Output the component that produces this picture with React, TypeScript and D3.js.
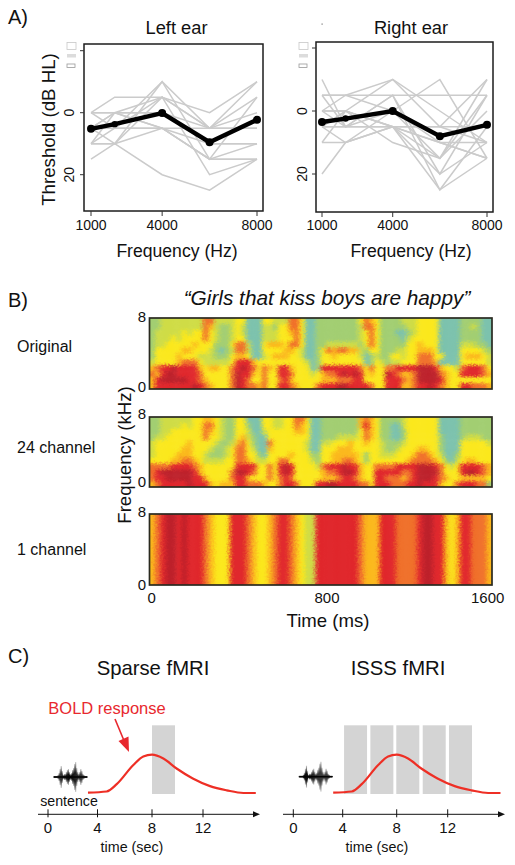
import React from "react";
import * as d3 from "d3";

const FONT = "'Liberation Sans', Arial, sans-serif";

// Panel A
const freqs = [1000, 2000, 4000, 6000, 8000];
const freqTicks = [1000, 4000, 8000];
const leftMean = [5.2, 3.7, 0.1, 9.5, 2.3];
const rightMean = [3.5, 2.4, 0, 8, 4.4];
const leftSubjects = [
  [5, 10, 20, 25, 15],
  [15, 10, 5, 15, 10],
  [10, 10, -10, 5, 5],
  [10, 0, -5, 0, -10],
  [0, -5, -5, 5, 0],
  [0, 5, 5, 15, 15],
  [5, 5, 5, 5, 5],
  [10, 10, -5, 20, 15],
  [5, 0, 0, 10, 10],
  [0, 0, 5, 15, 15],
  [5, 5, -10, 15, -5],
  [10, 5, -5, 5, -10],
  [5, 0, 0, 5, -5],
  [0, 0, 5, 10, 10],
];
const rightSubjects = [
  [20, 10, 5, 25, 15],
  [-10, 5, 5, 20, 10],
  [10, 0, 10, 15, -10],
  [5, 10, 0, -10, 15],
  [-5, -5, -10, 5, 10],
  [-5, -5, -5, -5, -5],
  [0, 0, 5, 10, 10],
  [5, 5, -5, 25, 5],
  [0, 5, -5, 20, -5],
  [5, 0, 5, 15, 0],
  [0, -5, 0, 10, 15],
  [10, 10, 5, 5, -10],
  [5, 5, 5, 5, 5],
  [0, 0, -10, 0, 10],
  [5, 0, 5, 10, 15],
  [-5, 5, 0, 15, -5],
];

// Panel B, levels 0 (teal) to 7 (dark red), top row = 8 kHz
const specLevels = ["#7cc2ad", "#a2ce72", "#cfdc46", "#fbe81c", "#fbb81c", "#f0702a", "#e0262b", "#bd202a"];
const originalRows = [
  "11222222225522223300033222553001" + "11111113543111122233330000111100",
  "11222222225421123200022133553001" + "11111112553111112233330000112100",
  "12222232335321123200022233453001" + "11111112353111001233330000111100",
  "12223233335321123300022233353001" + "11111112353111102333330000111100",
  "12233333433311135520034443553001" + "12222221353111113343330000222110",
  "13333344333210125520033334432001" + "35455442133111223344430000333321",
  "13333433322211134430023444332001" + "33433332012113323355533000344432",
  "23333455532222236664333333333201" + "33333333013212233355540000333332",
  "45667666643443356765354366433301" + "66666665353355666677764332566653",
  "54677666653333357664353366533323" + "45567676343376544577775433666654",
  "46777776654333357653353356433333" + "44455566333366654577776433333333",
  "46666666765433357655453366543335" + "66677666653366644566765433665554",
];
const channel24Rows = [
  "11222222334432113300033223355300" + "11111114543111123333330000111111",
  "11222232335532113310033223354300" + "11111114643110023333330000111111",
  "11223333335432113320023333344300" + "11111113543110013333330000111111",
  "12233333335332113421003333333300" + "11122223543110013333331000122211",
  "23333334333321124531005333333200" + "22333433433211123333331000333332",
  "23333344333211235532004333333200" + "33344433333211233344331000333333",
  "23333444332111235533103333433311" + "33444443133222333455432001333333",
  "33334455432222335543223355333321" + "33445543133333334555543102344333",
  "55556666543333336666335367633332" + "56667664335555666677765323666654",
  "56777777643333357765335367633333" + "45567764336666655677775333677654",
  "56677777664333356643335356533333" + "44456654336655545677765433444443",
  "45666667666434446655543356653336" + "67766665536665556676664335666551",
];
const oneChannelCols = "4567767666543336" + "6654334566543226" + "6666666544466655" + "5567766434665554";

// Panel C
const boldTimes = [3.23, 4.67, 5.41, 6.63, 7.36, 8, 8.89, 9.93, 11.2, 12.55, 13.86, 15.17, 16.14];
const boldAmps = [0.01, 0.04, 0.23, 0.73, 0.95, 1, 0.9, 0.64, 0.38, 0.18, 0.07, 0, 0];
const waveAmps = [1, 1, 1, 1, 2, 4, 8, 11, 6, 2, 3, 3, 5, 7, 8, 5, 3, 4, 7, 9, 13, 15, 9, 5, 3, 5, 8, 6, 3, 2, 1, 1, 1];
const sparseScans = [8];
const isssScans = [4.1, 6.05, 7.97, 10.04, 12.1];
const timeTicks = [0, 4, 8, 12];

function T(p: any) {
  const { x, y, rot, children, ...rest } = p;
  return (
    <text x={x} y={y} transform={rot ? `rotate(${rot} ${x} ${y})` : undefined} fontFamily={FONT} fill="#111" {...rest}>
      {children}
    </text>
  );
}

function Audiogram({ box, xr, y0, y20, subjects, mean, title, titleX, labelX, xLabelX, ylabel, glitch }: any) {
  const x = d3.scaleLinear().domain([1000, 8000]).range(xr);
  const y = d3.scaleLinear().domain([0, 20]).range([y0, y20]);
  const line = d3.line<number>().x((_, i) => x(freqs[i])).y((d) => y(d));
  return (
    <g>
      {subjects.map((s: number[], i: number) => (
        <path key={i} d={line(s)!} fill="none" stroke="#cbcbcb" strokeWidth={1.5} />
      ))}
      <path d={line(mean)!} fill="none" stroke="#000" strokeWidth={4.4} />
      {mean.map((m: number, i: number) => (
        <circle key={i} cx={x(freqs[i])} cy={y(m)} r={i === 1 ? 3.2 : 4} fill="#000" />
      ))}
      <rect x={box[0]} y={box[1]} width={box[2] - box[0]} height={box[3] - box[1]} fill="none" stroke="#1c1c1c" strokeWidth={1.5} />
      {[-20, 0, 20].map((t) => (
        <line key={t} x1={box[0] - 4} x2={box[0]} y1={y(t)} y2={y(t)} stroke="#333" strokeWidth={1} />
      ))}
      {freqTicks.map((t) => (
        <g key={t}>
          <line x1={x(t)} x2={x(t)} y1={box[3]} y2={box[3] + 5} stroke="#333" strokeWidth={1} />
          <T x={x(t)} y={230} fontSize={14} textAnchor="middle">{t}</T>
        </g>
      ))}
      <T x={labelX} y={y(0)} rot={-90} fontSize={14} textAnchor="middle">0</T>
      <T x={labelX} y={y(20)} rot={-90} fontSize={14} textAnchor="middle">20</T>
      <rect x={glitch} y={42.5} width={9} height={7} fill="none" stroke="#c8c8c8" strokeWidth={0.8} />
      <rect x={glitch} y={54} width={9} height={3.5} fill="#dcdcdc" />
      <rect x={glitch} y={64} width={8} height={3.5} fill="none" stroke="#999" strokeWidth={0.8} />
      <T x={titleX} y={34} fontSize={18.3} textAnchor="middle">{title}</T>
      <T x={xLabelX} y={257} fontSize={17.6} textAnchor="middle">Frequency (Hz)</T>
      {ylabel && <T x={55} y={129.5} rot={-90} fontSize={18.7} textAnchor="middle">Threshold (dB HL)</T>}
    </g>
  );
}

function Spectrogram({ id, rows, top, bottom }: any) {
  const left = 149.5;
  const right = 492;
  const nCols = rows[0].length;
  const colIdx = d3.range(nCols);
  const x = d3.scaleBand<number>().domain(colIdx).range([left, right]);
  const y = d3.scaleBand<number>().domain(d3.range(rows.length)).range([top, bottom]);
  const color = d3.scaleOrdinal<number, string>().domain(d3.range(8)).range(specLevels);
  return (
    <g>
      <clipPath id={id}>
        <rect x={left} y={top} width={right - left} height={bottom - top} />
      </clipPath>
      <g clipPath={`url(#${id})`}>
        <g filter="url(#specBlur)">
          {rows.map((r: string, ri: number) =>
            colIdx.map((ci) => {
              const edgeL = ci === 0 ? 10 : 0;
              const edgeR = ci === nCols - 1 ? 10 : 0;
              const edgeT = ri === 0 ? 10 : 0;
              const edgeB = ri === rows.length - 1 ? 10 : 0;
              return (
                <rect
                  key={`${ri}-${ci}`}
                  x={x(ci)! - edgeL}
                  y={y(ri)! - edgeT}
                  width={x.bandwidth() + edgeL + edgeR + 0.4}
                  height={y.bandwidth() + edgeT + edgeB + 0.4}
                  fill={color(+r[ci])}
                />
              );
            })
          )}
        </g>
      </g>
      <rect x={left} y={top} width={right - left} height={bottom - top} fill="none" stroke="#2a2a20" strokeWidth={1.7} />
    </g>
  );
}

function Timeline({ xr, scans, axisStart, axisEnd, waveY, showSentence, title, titleX, labelX, scanW }: any) {
  const x = d3.scaleLinear().domain([0, 4, 8, 12, 20]).range(xr);
  const amp = d3.scaleLinear().domain([0, 1]).range([793, 754.7]);
  const curve = d3.line<number>().x((_, i) => x(boldTimes[i])).y((d) => amp(d)).curve(d3.curveMonotoneX);
  const wave = d3.scaleLinear().domain([0, waveAmps.length - 1]).range([x(0.48), x(3.15)]);
  const axisY = 814.3;
  return (
    <g>
      {scans.map((s: number) => (
        <rect key={s} x={x(s)} y={725.3} width={scanW} height={68.7} fill="#d4d4d4" />
      ))}
      <path d={curve(boldAmps)!} fill="none" stroke="#ee2f25" strokeWidth={2.2} />
      <rect x={wave(0)} y={waveY - 0.8} width={wave(waveAmps.length - 1) - wave(0)} height={1.6} fill="#111" />
      {waveAmps.map((a, i) => (
        <rect key={i} x={wave(i) - 0.5} y={waveY - a} width={1.1} height={2 * a} fill="url(#waveFade)" />
      ))}
      <line x1={axisStart} x2={axisEnd - 5} y1={axisY} y2={axisY} stroke="#111" strokeWidth={1} />
      <path d={`M${axisEnd},${axisY}L${axisEnd - 7},${axisY - 3}L${axisEnd - 7},${axisY + 3}Z`} fill="#111" />
      {timeTicks.map((t) => (
        <g key={t}>
          <line x1={x(t)} x2={x(t)} y1={axisY - 5} y2={axisY + 3} stroke="#111" strokeWidth={1} />
          <T x={x(t)} y={833} fontSize={15} textAnchor="middle">{t}</T>
        </g>
      ))}
      <T x={labelX} y={852} fontSize={14.3} textAnchor="middle">time (sec)</T>
      {showSentence && <T x={69} y={805.7} fontSize={14.2} textAnchor="middle">sentence</T>}
      <T x={titleX} y={675} fontSize={20.3} textAnchor="middle">{title}</T>
    </g>
  );
}

export default function App() {
  const oneRows = [oneChannelCols];
  const tx = d3.scaleLinear().domain([0, 800, 1600]).range([151.7, 327, 487.7]);
  return (
    <svg width={515} height={865} style={{ position: "fixed", left: 0, top: 0, background: "#fff" }}>
      <defs>
        <filter id="specBlur" x="-5%" y="-20%" width="110%" height="140%" colorInterpolationFilters="sRGB">
          <feGaussianBlur in="SourceGraphic" stdDeviation="1.9 1.6" result="soft" />
          <feTurbulence type="fractalNoise" baseFrequency="0.45 0.55" numOctaves={2} seed={4} result="grain" />
          <feDisplacementMap in="soft" in2="grain" scale={5} xChannelSelector="R" yChannelSelector="G" result="shifted" />
          <feGaussianBlur in="shifted" stdDeviation="0.45" />
        </filter>
        <linearGradient id="waveFade" x1="0" x2="0" y1="0" y2="1">
          <stop offset="0" stopColor="#000" stopOpacity={0.2} />
          <stop offset="0.35" stopColor="#000" stopOpacity={0.95} />
          <stop offset="0.65" stopColor="#000" stopOpacity={0.95} />
          <stop offset="1" stopColor="#000" stopOpacity={0.2} />
        </linearGradient>
      </defs>

      <T x={8} y={24} fontSize={20}>A)</T>
      <Audiogram box={[84, 44, 263, 211]} xr={[91, 257]} y0={112.7} y20={174.7} subjects={leftSubjects} mean={leftMean}
        title="Left ear" titleX={176.5} labelX={74} xLabelX={177} ylabel glitch={67} />
      <Audiogram box={[316, 42, 493, 212]} xr={[322, 487]} y0={111} y20={174} subjects={rightSubjects} mean={rightMean}
        title="Right ear" titleX={411} labelX={307} xLabelX={411} glitch={299} />
      <rect x={321.5} y={23.5} width={1.2} height={1.2} fill="#777" />

      <T x={8} y={307} fontSize={20}>B)</T>
      <T x={327} y={305} fontSize={20.8} fontStyle="italic" textAnchor="middle">“Girls that kiss boys are happy”</T>
      <T x={17} y={352} fontSize={16}>Original</T>
      <T x={17} y={453} fontSize={16}>24 channel</T>
      <T x={17} y={555} fontSize={16}>1 channel</T>
      <T x={131} y={455} rot={-90} fontSize={18.6} textAnchor="middle">Frequency (kHz)</T>
      <Spectrogram id="sp1" rows={originalRows} top={318} bottom={389} />
      <Spectrogram id="sp2" rows={channel24Rows} top={417} bottom={487} />
      <Spectrogram id="sp3" rows={oneRows} top={514} bottom={585} />
      {[[322, "8"], [391.7, "0"], [419.3, "8"], [487, "0"], [517, "8"], [590, "0"]].map(([y, s]: any) => (
        <T key={y} x={142} y={y} fontSize={15} textAnchor="middle">{s}</T>
      ))}
      {[0, 800, 1600].map((t) => (
        <T key={t} x={tx(t)} y={603} fontSize={15} textAnchor="middle">{t}</T>
      ))}
      <T x={328} y={627} fontSize={18.6} textAnchor="middle">Time (ms)</T>

      <T x={8} y={663} fontSize={20}>C)</T>
      <Timeline xr={[48, 97.5, 152, 203, 305]} scans={sparseScans} axisStart={38} axisEnd={260} waveY={777} showSentence
        title="Sparse fMRI" titleX={153} labelX={132} scanW={23} />
      <Timeline xr={[293.3, 342.7, 396.7, 447.7, 549.7]} scans={isssScans} axisStart={283} axisEnd={505} waveY={776.7}
        title="ISSS fMRI" titleX={398} labelX={377} scanW={23} />
      <T x={107} y={714} fontSize={16.5} fill="#e8282e" textAnchor="middle">BOLD response</T>
      <line x1={115} y1={719} x2={125} y2={743} stroke="#e8282e" strokeWidth={1.6} />
      <path d="M129,752L118.5,741L128.5,736.5Z" fill="#e8282e" />
    </svg>
  );
}
